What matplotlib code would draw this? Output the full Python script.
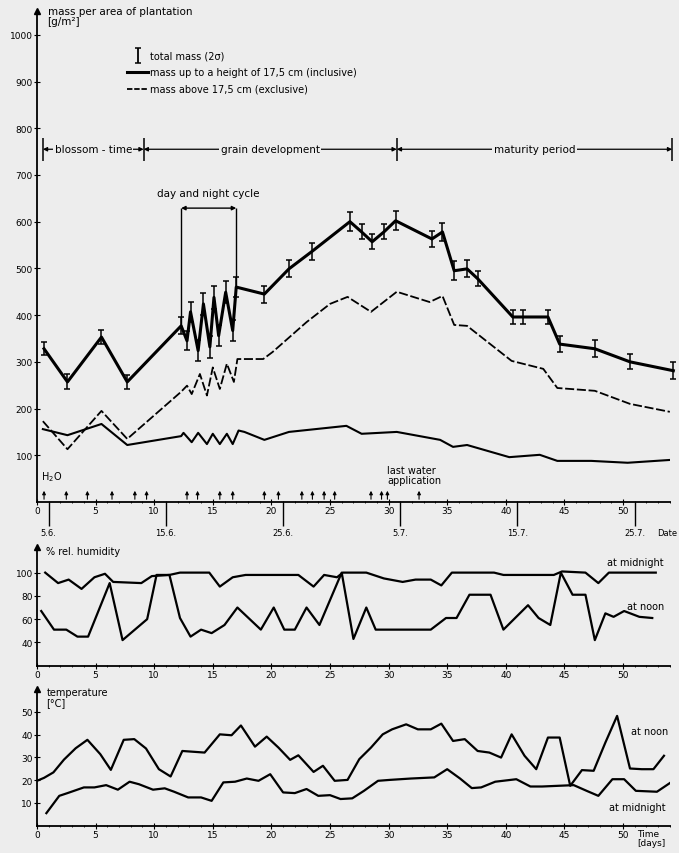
import numpy as np
import matplotlib.pyplot as plt

# total mass (mean, +-2 sigma) in g/m2
mass_day = [0.6, 2.6, 5.5, 7.7, 12.3, 12.8, 13.1, 13.75, 14.2, 14.75, 15.1, 15.5, 16.1, 16.7, 17.0,
            19.4, 21.5, 23.5, 26.7, 27.7, 28.6, 29.6, 30.6, 33.7, 34.6, 35.6, 36.7, 37.6,
            40.6, 41.5, 43.6, 44.6, 47.6, 50.6, 54.3]
mass_total = [328, 257, 353, 257, 377, 345, 407, 324, 424, 332, 438, 356, 449, 367, 460,
              445, 499, 537, 600, 578, 557, 578, 602, 563, 578, 495, 499, 478,
              396, 396, 396, 338, 328, 300, 281]
mass_err = [14, 16, 15, 15, 18, 20, 22, 22, 24, 24, 25, 22, 24, 22, 22,
            18, 18, 18, 20, 16, 16, 16, 20, 18, 20, 20, 18, 16,
            16, 14, 16, 18, 18, 16, 18]

# mass above 17,5 cm
above_day = [0.5, 2.6, 5.5, 7.7, 12.3, 12.8, 13.2, 13.9, 14.5, 15.0, 15.6, 16.2, 16.8, 17.1,
             19.3, 20.1, 23.0, 25.0, 26.5, 28.5, 30.7, 33.5, 34.6, 35.6, 36.7,
             40.5, 43.2, 44.4, 47.6, 50.6, 54.0]
above_val = [173, 113, 195, 135, 236, 249, 231, 274, 228, 288, 242, 296, 257, 306,
             306, 321, 385, 424, 439, 407, 450, 428, 441, 379, 377,
             302, 285, 244, 238, 210, 193]

# mass up to 17,5 cm
below_day = [0.5, 2.6, 5.5, 7.7, 12.3, 12.5, 13.2, 13.75, 14.5, 15.0, 15.6, 16.2, 16.7, 17.2, 17.7,
             19.4, 21.5, 26.4, 27.7, 30.7, 34.4, 35.5, 36.7, 40.3, 42.9, 44.4, 47.3, 50.4, 54.0]
below_val = [156, 143, 167, 122, 141, 148, 128, 148, 124, 146, 124, 146, 124, 153, 150,
             133, 150, 163, 146, 150, 133, 118, 122, 96, 101, 88, 88, 84, 90]

water_days = [0.6, 2.5, 4.3, 6.4, 8.35, 9.35, 12.8, 13.7, 15.6, 16.7, 19.4, 20.6,
              22.6, 23.5, 24.5, 25.4, 28.5, 29.4, 29.9, 32.6]

date_days = [1, 11, 21, 31, 41, 51]
date_labels = ["5.6.", "15.6.", "25.6.", "5.7.", "15.7.", "25.7."]

phase_bounds = [0.5, 9.1, 30.7, 54.2]
phase_labels = ["blossom - time", "grain development", "maturity period"]

hum_mid_day = [0.7, 1.8, 2.7, 3.8, 4.9, 5.8, 6.5, 8.9, 9.8, 11.3, 12.2, 14.7, 15.6, 16.7, 17.8,
               22.3, 23.6, 24.5, 25.6, 26.1, 28.1, 29.6, 31.2, 32.3, 33.6, 34.5, 35.4, 39.0,
               39.8, 44.1, 44.8, 46.8, 47.9, 48.8, 52.8]
hum_mid = [100, 91, 94, 86, 96, 99, 92, 91, 97, 98, 100, 100, 88, 96, 98,
           98, 88, 98, 96, 100, 100, 95, 92, 94, 94, 89, 100, 100,
           98, 98, 101, 100, 91, 100, 100]

hum_noon_day = [0.36, 1.45, 2.5, 3.45, 4.36, 6.2, 7.3, 9.4, 10.2, 11.3, 12.2, 13.1, 14.0, 14.9,
                16.0, 17.1, 19.1, 20.2, 21.1, 22.0, 23.0, 24.1, 26.0, 27.0, 28.1, 28.9, 33.6,
                34.9, 35.8, 36.9, 38.7, 39.8, 41.9, 42.8, 43.8, 44.7, 45.7, 46.8, 47.6, 48.5,
                49.2, 50.1, 51.4, 52.5]
hum_noon = [67, 51, 51, 45, 45, 91, 42, 60, 98, 98, 61, 45, 51, 48,
            55, 70, 51, 70, 51, 51, 70, 55, 100, 43, 70, 51, 51,
            61, 61, 81, 81, 51, 72, 61, 55, 100, 81, 81, 42, 65,
            62, 67, 62, 61]

t_noon_day = [0, 0.6, 1.4, 2.3, 3.3, 4.3, 5.4, 6.3, 7.4, 8.3, 9.3, 10.4, 11.4, 12.4, 14.3,
              15.6, 16.6, 17.4, 18.6, 19.6, 20.6, 21.6, 22.3, 23.6, 24.4, 25.4, 26.5, 27.5,
              28.5, 29.5, 30.3, 31.5, 32.5, 33.6, 34.5, 35.5, 36.5, 37.6, 38.6, 39.6, 40.5,
              41.6, 42.6, 43.6, 44.6, 45.5, 46.5, 47.5, 48.5, 49.5, 50.6, 51.6, 52.6, 53.5]
t_noon = [19.7, 21, 23.4, 29, 34, 37.7, 31.4, 24.5, 37.7, 38, 33.9, 24.8, 21.6, 32.8, 32.1,
          40.1, 39.7, 44, 34.7, 39.1, 34.3, 28.9, 30.9, 23.6, 26.3, 19.7, 20.1, 29.2,
          34.3, 40.1, 42.3, 44.5, 42.3, 42.3, 44.8, 37.2, 38, 32.8, 32.1, 29.9, 40.1,
          30.7, 24.8, 38.7, 38.7, 17.5, 24.4, 24.1, 36.5, 48.2, 25.1, 24.8, 24.8, 30.7]

t_mid_day = [0.8, 1.9, 2.6, 4.0, 4.9, 5.9, 6.9, 7.9, 8.7, 9.9, 10.9, 11.7, 12.9, 14.0, 14.9,
             15.9, 16.9, 17.9, 18.9, 19.9, 21.0, 22.0, 23.0, 24.0, 25.0, 25.9, 26.9, 27.9,
             29.1, 30.1, 31.9, 33.9, 35.0, 36.1, 37.1, 37.9, 39.1, 40.9, 42.1, 43.1, 45.8,
             46.9, 47.9, 49.1, 50.1, 51.1, 52.9, 54.0]
t_mid = [5.5, 13.1, 14.3, 16.8, 16.8, 17.8, 15.8, 19.3, 18.2, 15.8, 16.4, 14.9, 12.4, 12.4, 10.9,
         19.0, 19.3, 20.7, 19.7, 22.6, 14.6, 14.3, 16.1, 13.1, 13.4, 11.7, 12.0, 15.3,
         19.7, 20.1, 20.7, 21.2, 24.8, 20.7, 16.5, 16.8, 19.3, 20.4, 17.2, 17.2, 17.8,
         15.3, 13.1, 20.4, 20.4, 15.3, 14.9, 18.7]

BG = '#ededed'
plt.rcParams['font.family'] = 'DejaVu Sans'
plt.rcParams['font.size'] = 7


def style(ax, ylim, yticks):
    ax.set_facecolor('none')
    for s in ('top', 'right'):
        ax.spines[s].set_visible(False)
    ax.spines['left'].set_linewidth(1.3)
    ax.spines['bottom'].set_linewidth(1.3)
    ax.set_xlim(0, 54)
    ax.set_ylim(*ylim)
    ax.set_xticks(np.arange(0, 51, 5))
    ax.set_xticks(np.arange(0, 55, 1), minor=True)
    ax.set_yticks(yticks)
    ax.tick_params(direction='inout', length=4, width=0.8, labelsize=6.5, pad=1)
    ax.tick_params(which='minor', axis='x', direction='inout', length=2, width=0.6)
    ax.plot(0, 1, '^k', ms=4, transform=ax.transAxes, clip_on=False)


fig = plt.figure(figsize=(6.79, 8.54), dpi=100, facecolor=BG)

# ---- mass panel
ax1 = fig.add_axes([0.0545, 0.411, 0.932, 0.575])
style(ax1, (0, 1051), np.arange(100, 1001, 100))
ax1.errorbar(mass_day, mass_total, yerr=mass_err, color='k', lw=2.2, elinewidth=1.1,
             capsize=2, capthick=1.1, clip_on=False)
ax1.plot(above_day, above_val, color='k', lw=1.3, dashes=(5, 1.5))
ax1.plot(below_day, below_val, color='k', lw=1.5)

for d in water_days:
    ax1.annotate('', xy=(d, 30), xytext=(d, 0),
                 arrowprops=dict(arrowstyle='-|>', lw=0.8, color='k', mutation_scale=5))
ax1.text(0.3, 40, 'H$_2$O', fontsize=7, va='bottom')
ax1.text(29.9, 36, 'last water\napplication', fontsize=7, va='bottom', linespacing=1.0)

ax1.vlines(date_days, -52, 0, color='k', lw=1.0, clip_on=False)
for d, lab in zip(date_days, date_labels):
    ax1.text(d, -55, lab, ha='center', va='top', fontsize=6)
ax1.text(54.6, -55, 'Date', ha='right', va='top', fontsize=6)

ax1.text(0.9, 1040, 'mass per area of plantation\n[g/m²]', fontsize=7.5, va='center',
         linespacing=1.05)

# legend
ax1.errorbar([8.6], [955], yerr=[16], color='k', elinewidth=1.3, capsize=2, capthick=1.1)
ax1.text(9.6, 955, 'total mass (2σ)', fontsize=7, va='center')
ax1.plot([7.7, 9.5], [921, 921], color='k', lw=2.2)
ax1.text(9.6, 921, 'mass up to a height of 17,5 cm (inclusive)', fontsize=7, va='center')
ax1.plot([7.7, 9.5], [885, 885], color='k', lw=1.3, dashes=(3, 1))
ax1.text(9.6, 885, 'mass above 17,5 cm (exclusive)', fontsize=7, va='center')

# growth phases
ax1.vlines(phase_bounds, 730, 780, color='k', lw=1.1, clip_on=False)
for i, lab in enumerate(phase_labels):
    a, b = phase_bounds[i], phase_bounds[i + 1]
    ax1.annotate('', xy=(a, 755), xytext=(b, 755),
                 arrowprops=dict(arrowstyle='<|-|>', lw=0.9, color='k', mutation_scale=6,
                                 shrinkA=0, shrinkB=0), annotation_clip=False)
    ax1.text((a + b) / 2, 755, lab, ha='center', va='center', fontsize=7.5,
             bbox=dict(facecolor=BG, edgecolor='none', pad=1.0))

# day and night cycle bracket
ax1.vlines([12.3, 17.0], [377, 460], 629, color='k', lw=1.0)
ax1.annotate('', xy=(12.3, 629), xytext=(17.0, 629),
             arrowprops=dict(arrowstyle='<|-|>', lw=1.0, color='k', mutation_scale=6,
                             shrinkA=0, shrinkB=0))
ax1.text(14.65, 650, 'day and night cycle', ha='center', va='bottom', fontsize=7.5)

# ---- humidity panel
ax2 = fig.add_axes([0.0545, 0.2193, 0.932, 0.139])
style(ax2, (20, 122), [40, 60, 80, 100])
ax2.plot(hum_mid_day, hum_mid, color='k', lw=1.6)
ax2.plot(hum_noon_day, hum_noon, color='k', lw=1.6)
ax2.text(0.8, 118.5, '% rel. humidity', fontsize=7, va='center')
ax2.text(53.5, 109, 'at midnight', fontsize=7, ha='right', va='center')
ax2.text(53.5, 71, 'at noon', fontsize=7, ha='right', va='center')

# ---- temperature panel
ax3 = fig.add_axes([0.0545, 0.032, 0.932, 0.160])
style(ax3, (0, 60), [10, 20, 30, 40, 50])
ax3.plot(t_noon_day, t_noon, color='k', lw=1.6)
ax3.plot(t_mid_day, t_mid, color='k', lw=1.6)
ax3.text(0.8, 56.5, 'temperature\n[°C]', fontsize=7, va='center', linespacing=1.0)
ax3.text(53.9, 41.5, 'at noon', fontsize=7, ha='right', va='center')
ax3.text(53.6, 8.2, 'at midnight', fontsize=7, ha='right', va='center')
ax3.text(51.2, -1.5, 'Time\n[days]', fontsize=6.5, ha='left', va='top', linespacing=1.0)

fig.savefig('out.png', dpi=100, facecolor=BG)
